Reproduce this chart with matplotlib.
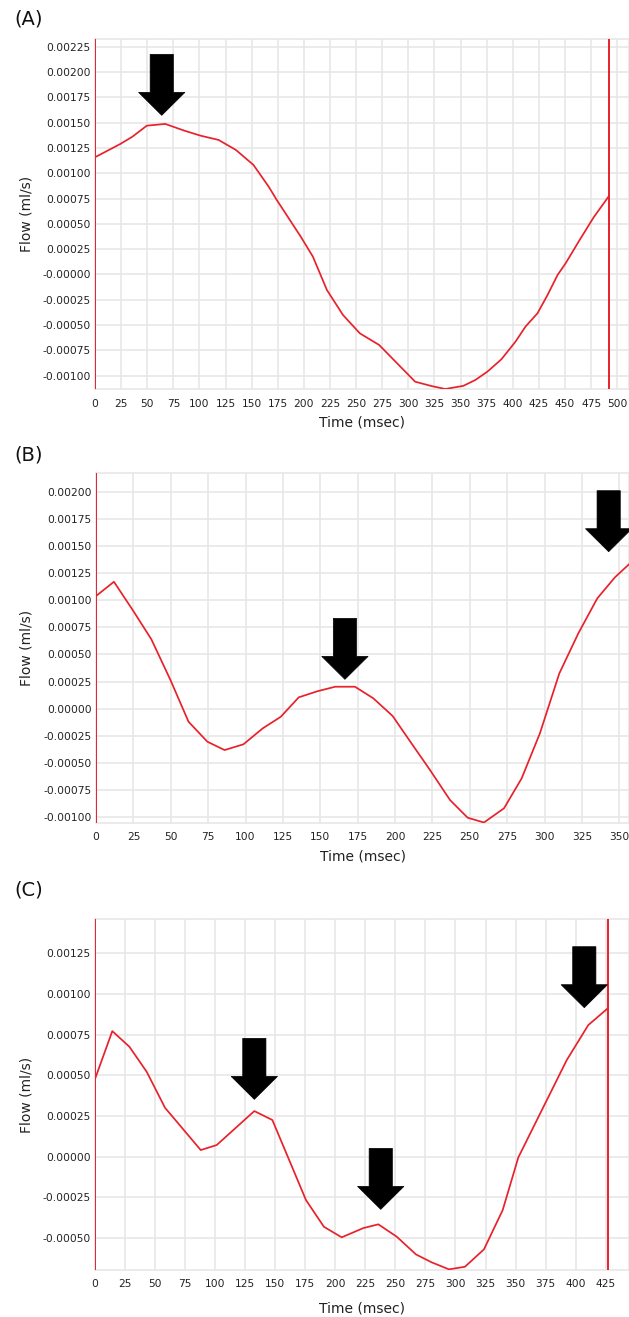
import matplotlib
matplotlib.use("Agg")
import matplotlib.pyplot as plt
import matplotlib.transforms as mtransforms
from matplotlib.patches import Polygon
from matplotlib.ticker import FormatStrFormatter

plt.rcParams["font.family"] = ["DejaVu Sans"]
plt.rcParams["axes.unicode_minus"] = False

# ---- flow waveforms (time in msec, flow in ml/s) ----
a_time = [0, 24.2, 35.8, 49.6, 67.3, 85.7, 101.1, 118.3, 134.9, 151.7, 166.3,
          174.0, 197.0, 208.6, 222.0, 237.4, 253.5, 272.0, 289.2, 306.5, 321.8,
          335.3, 352.6, 364.1, 375.6, 389.0, 402.5, 412.1, 423.6, 433.2, 442.8,
          450.5, 463.9, 477.4, 492.0]
a_flow = [0.001158, 0.001289, 0.001361, 0.001470, 0.001487, 0.001420, 0.001371,
          0.001329, 0.001230, 0.001082, 0.000867, 0.000736, 0.000373, 0.000176,
          -0.000153, -0.000400, -0.000581, -0.000696, -0.000877, -0.001059,
          -0.001101, -0.001131, -0.001100, -0.001042, -0.000960, -0.000838,
          -0.000664, -0.000515, -0.000383, -0.000203, -0.000005, 0.000110,
          0.000340, 0.000565, 0.000775]

b_time = [0, 12.0, 24.5, 37.0, 49.8, 61.9, 74.5, 86.0, 98.6, 111.5, 123.6,
          135.6, 148.0, 160.0, 173.2, 185.5, 198.4, 211.0, 223.4, 236.8, 248.6,
          259.5, 272.9, 284.7, 296.9, 309.9, 322.6, 335.3, 347.1, 356.5]
b_flow = [0.001038, 0.001170, 0.000910, 0.000640, 0.000264, -0.000121,
          -0.000305, -0.000382, -0.000329, -0.000182, -0.000075, 0.000104,
          0.000160, 0.000202, 0.000202, 0.000095, -0.000068, -0.000320,
          -0.000566, -0.000843, -0.001006, -0.001050, -0.000919, -0.000643,
          -0.000228, 0.000325, 0.000694, 0.001017, 0.001211, 0.001331]

c_time = [0, 14.4, 28.6, 43.0, 58.3, 88.0, 101.3, 132.6, 147.6, 175.6, 190.5,
          205.3, 223.3, 235.8, 251.1, 267.1, 280.2, 294.6, 307.9, 323.7, 339.3,
          352.3, 392.6, 410.5, 426.7]
c_flow = [0.000477, 0.000772, 0.000676, 0.000522, 0.000300, 0.000040, 0.000071,
          0.000280, 0.000225, -0.000268, -0.000432, -0.000497, -0.000440,
          -0.000417, -0.000493, -0.000602, -0.000651, -0.000694, -0.000678,
          -0.000571, -0.000329, -0.000005, 0.000594, 0.000809, 0.000912]

# cycle boundaries (msec) marked with vertical cursors
a_cursors = [0, 492.0]
b_cursors = [0]
c_cursors = [0, 427.0]

# peak markers: (time, flow) of each arrow tip
a_arrows = [(63.9, 0.001572)]
b_arrows = [(166.5, 0.000270), (342.9, 0.001447)]
c_arrows = [(132.6, 0.000352), (237.8, -0.000325), (407.2, 0.000916)]

# axis ticks
a_xticks = list(range(0, 501, 25))
b_xticks = list(range(0, 351, 25))
c_xticks = list(range(0, 426, 25))
a_yticks = [0.00225 - 0.00025 * i for i in range(14)]
b_yticks = [0.00200 - 0.00025 * i for i in range(13)]
c_yticks = [0.00125 - 0.00025 * i for i in range(8)]

panels = [
    dict(label="(A)", t=a_time, f=a_flow, cursors=a_cursors, arrows=a_arrows,
         xticks=a_xticks, yticks=a_yticks, xlim=(0, 511.2),
         ylim=(-0.001134, 0.002323), box=(95, 39.3, 629, 389.3),
         label_y=19, xlabel_y=422.0),
    dict(label="(B)", t=b_time, f=b_flow, cursors=b_cursors, arrows=b_arrows,
         xticks=b_xticks, yticks=b_yticks, xlim=(0, 356.5),
         ylim=(-0.00105, 0.00217), box=(96, 473.3, 629, 822.5),
         label_y=455, xlabel_y=856.0),
    dict(label="(C)", t=c_time, f=c_flow, cursors=c_cursors, arrows=c_arrows,
         xticks=c_xticks, yticks=c_yticks, xlim=(0, 444.4),
         ylim=(-0.000698, 0.00146), box=(95, 919.3, 629, 1270),
         label_y=889.5, xlabel_y=1308.3),
]

W, H = 629, 1317
RED = "#e8212b"
GRID = "#e6e6e6"

fig = plt.figure(figsize=(W / 100, H / 100), dpi=100)

# block arrow outline in pixels, tip at origin, pointing down
arrow_px = [(0, 0), (23.2, 23), (11.6, 23), (11.6, 61), (-11.6, 61),
            (-11.6, 23), (-23.2, 23)]
arrow_in = [(x / 100, y / 100) for x, y in arrow_px]

for p in panels:
    x0, y0, x1, y1 = p["box"]
    ax = fig.add_axes([x0 / W, 1 - y1 / H, (x1 - x0) / W, (y1 - y0) / H])
    ax.set_xlim(*p["xlim"])
    ax.set_ylim(*p["ylim"])
    ax.set_xticks(p["xticks"])
    ax.set_yticks(p["yticks"])
    ax.yaxis.set_major_formatter(FormatStrFormatter("%.5f"))
    ax.grid(True, color=GRID, linewidth=1.1, zorder=0)
    ax.set_axisbelow(True)
    for s in ax.spines.values():
        s.set_color(GRID)
        s.set_linewidth(1.1)
    ax.tick_params(length=0, labelsize=7.7, colors="#222222")
    ax.tick_params(axis="x", pad=6.8)
    ax.tick_params(axis="y", pad=3.0)

    ax.plot(p["t"], p["f"], color=RED, linewidth=1.25, zorder=3)
    for c in p["cursors"]:
        ax.axvline(c, color=RED, linewidth=1.4, zorder=4)

    for tx, ty in p["arrows"]:
        trans = fig.dpi_scale_trans + mtransforms.ScaledTranslation(tx, ty, ax.transData)
        ax.add_patch(Polygon(arrow_in, closed=True, facecolor="black",
                             edgecolor="black", linewidth=0.5,
                             transform=trans, clip_on=False, zorder=5))

    ax.set_xlabel("Time (msec)", fontsize=10, color="#222222")
    ax.xaxis.set_label_coords(0.5, (y1 - p["xlabel_y"]) / (y1 - y0))
    ax.xaxis.label.set_va("center")
    ax.set_ylabel("Flow (ml/s)", fontsize=10, color="#222222")
    ax.yaxis.set_label_coords((26.5 - x0) / (x1 - x0), 0.5)
    ax.yaxis.label.set_va("center")

    fig.text(14 / W, 1 - p["label_y"] / H, p["label"], fontsize=14,
             ha="left", va="center", color="#111111")

fig.savefig("out.png", dpi=100)
